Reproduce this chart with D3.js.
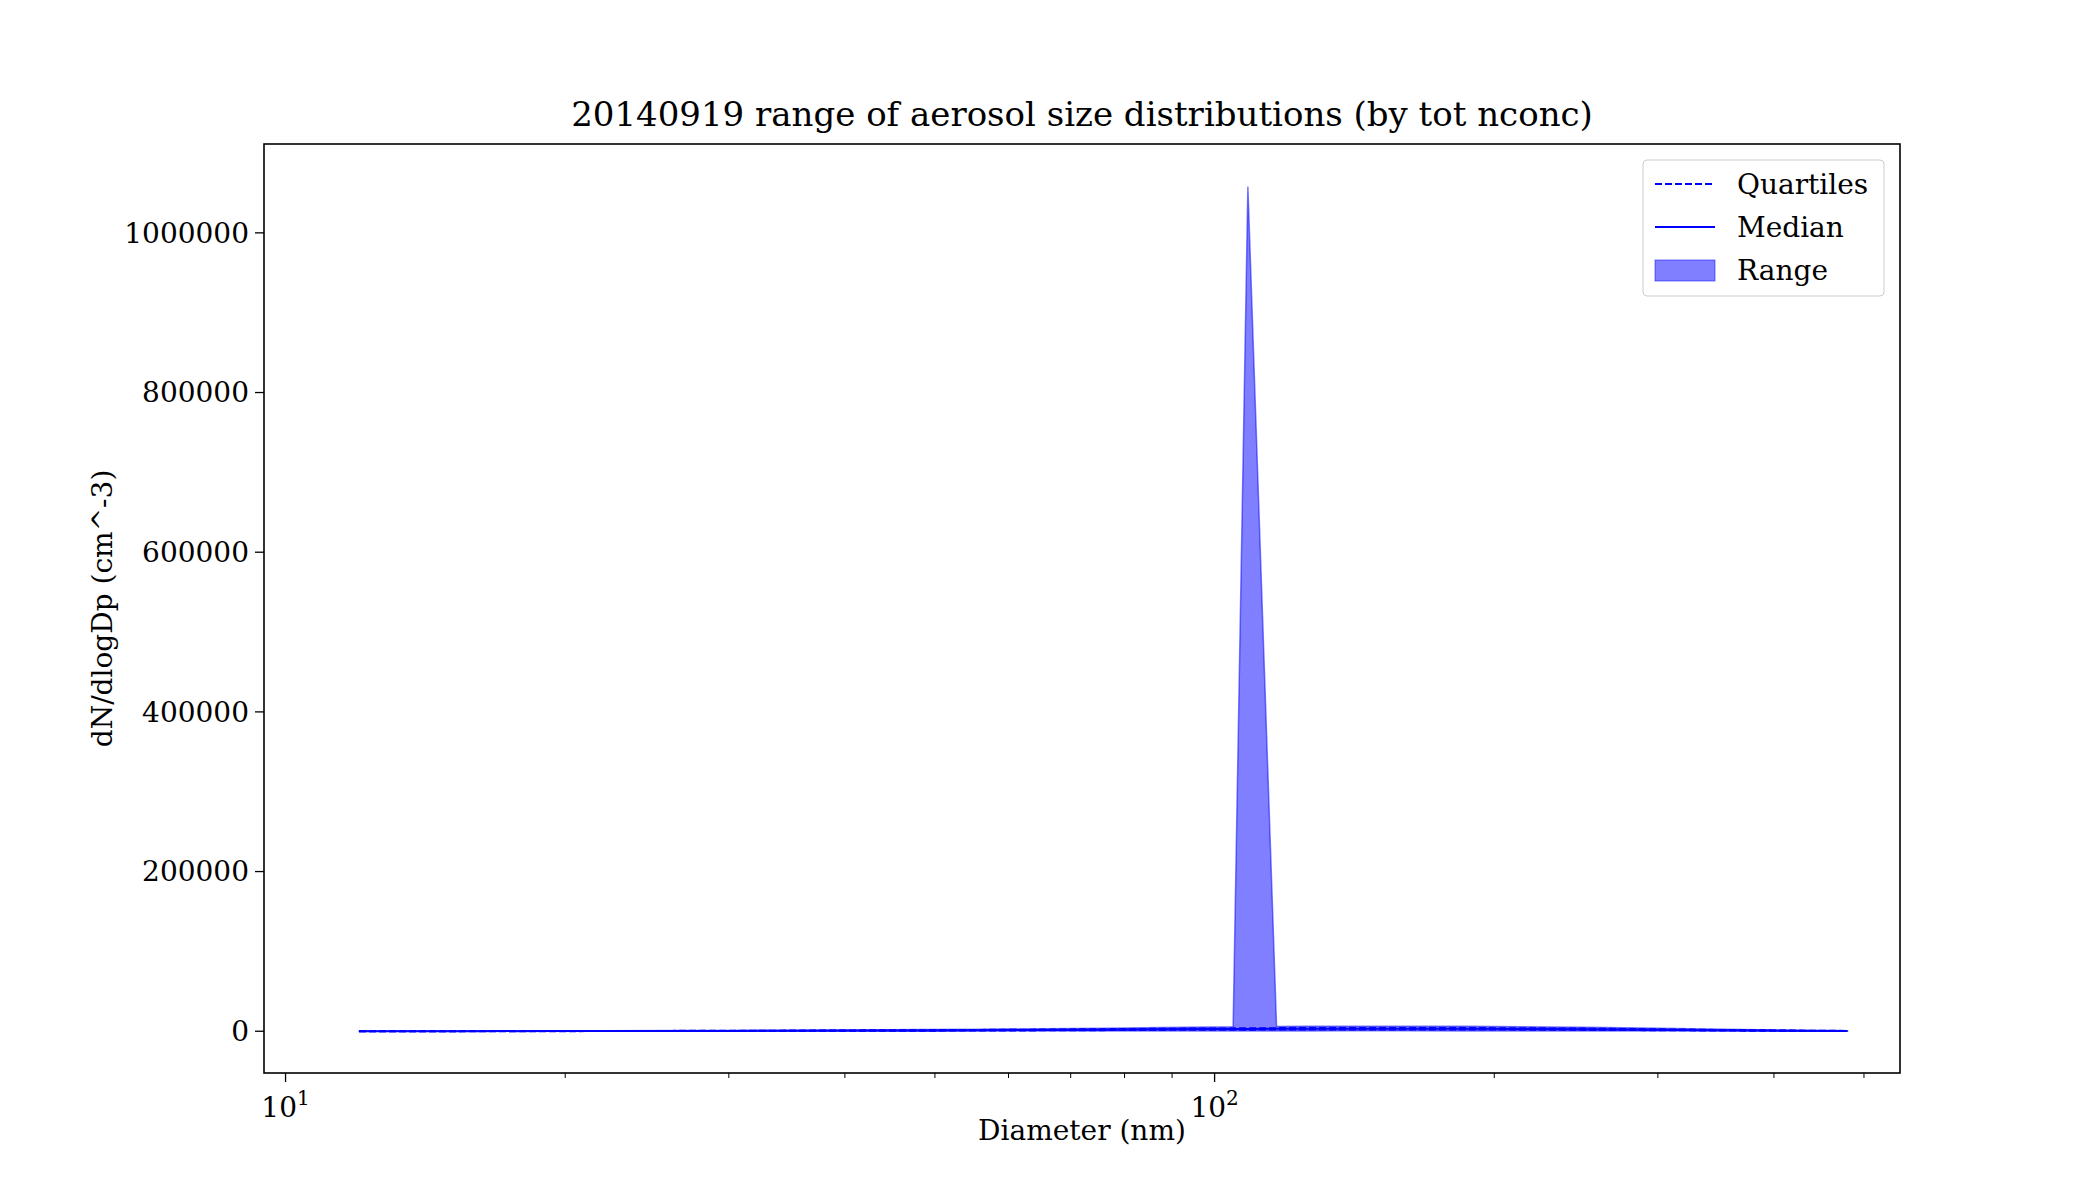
<!DOCTYPE html>
<html><head><meta charset="utf-8">
<script src="https://cdn.jsdelivr.net/npm/d3@7"></script>
<style>body{margin:0;background:#fff}text{font-family:"DejaVu Serif",serif}</style>
</head><body>
<svg id="chart" width="2100" height="1200"></svg>
<script>
// diameters (nm) and distribution stats
const diameters = [12,14,16,19,22,26,30,35,41,48,56,65,76,88,98,104.7,108.6,116.6,125,140,160,185,215,250,290,340,400,480];
const medianVals = [50,80,120,180,250,350,450,600,800,1000,1300,1600,2000,2400,2700,2800,2900,3000,3100,3200,3200,3100,2900,2500,2000,1400,800,300];
const q1Vals = [30,50,80,120,170,240,310,420,560,700,900,1100,1400,1700,1900,2000,2000,2100,2200,2200,2200,2200,2000,1700,1400,1000,550,200];
const q3Vals = [70,110,160,240,330,460,600,800,1050,1300,1700,2100,2600,3100,3500,3600,3800,3900,4000,4100,4100,4000,3800,3300,2600,1800,1050,400];
const minVals = [0,0,10,20,30,50,70,90,120,150,200,250,300,350,400,400,420,450,450,480,480,450,420,380,300,200,120,40];
const maxVals = [150,220,320,450,600,800,1000,1300,1700,2100,2600,3200,3900,4600,5200,5500,1058000,6000,6200,6300,6300,6100,5700,5000,4000,2800,1600,600];
const yTicks = [0,200000,400000,600000,800000,1000000];

const svg = d3.select("#chart");
const m = {left:264, right:1900, top:144, bottom:1073};
const x = d3.scaleLog().domain([9.48, 546.7]).range([m.left, m.right]);
const y = d3.scaleLinear().domain([-52300, 1111300]).range([m.bottom, m.top]);

const rows = diameters.map((d,i) => ({d, med:medianVals[i], q1:q1Vals[i], q3:q3Vals[i], lo:minVals[i], hi:maxVals[i]}));

svg.append("path").datum(rows)
  .attr("d", d3.area().x(r => x(r.d)).y0(r => y(r.lo)).y1(r => y(r.hi)))
  .attr("fill", "rgba(0,0,255,0.5)").attr("stroke", "rgba(0,0,255,0.5)").attr("stroke-width", 1.5);

const line = key => d3.line().x(r => x(r.d)).y(r => y(r[key]));
["q1","q3"].forEach(k => svg.append("path").datum(rows).attr("d", line(k))
  .attr("fill","none").attr("stroke","blue").attr("stroke-width",2).attr("stroke-dasharray","7,3"));
svg.append("path").datum(rows).attr("d", line("med"))
  .attr("fill","none").attr("stroke","blue").attr("stroke-width",2);

// frame
svg.append("rect").attr("x", m.left).attr("y", m.top)
  .attr("width", m.right - m.left).attr("height", m.bottom - m.top)
  .attr("fill","none").attr("stroke","#000").attr("stroke-width",1.6);

// x axis
const minor = [];
[10,100].forEach(b => { for (let k=1;k<10;k++) { const v=b*k; if (v>9.48 && v<546.7) minor.push(v); } });
minor.forEach(v => {
  const major = v===10 || v===100;
  svg.append("line").attr("x1",x(v)).attr("x2",x(v)).attr("y1",m.bottom).attr("y2",m.bottom+(major?9:5))
    .attr("stroke","#000").attr("stroke-width", major?1.3:1);
});
[[10,"1"],[100,"2"]].forEach(([v,e]) => {
  const t = svg.append("text").attr("x",x(v)).attr("y",m.bottom+44).attr("text-anchor","middle").attr("font-size",28);
  t.append("tspan").text("10");
  t.append("tspan").attr("dy",-12).attr("font-size",20).text(e);
});
svg.append("text").attr("x",(m.left+m.right)/2).attr("y",m.bottom+67).attr("text-anchor","middle")
  .attr("font-size",28).text("Diameter (nm)");

// y axis
yTicks.forEach(v => {
  svg.append("line").attr("x1",m.left-9).attr("x2",m.left).attr("y1",y(v)).attr("y2",y(v)).attr("stroke","#000").attr("stroke-width",1.3);
  svg.append("text").attr("x",m.left-15).attr("y",y(v)).attr("dy","0.35em").attr("text-anchor","end")
    .attr("font-size",28).text(v);
});
svg.append("text").attr("transform",`translate(112,${(m.top+m.bottom)/2}) rotate(-90)`)
  .attr("text-anchor","middle").attr("font-size",28).text("dN/dlogDp (cm^-3)");

svg.append("text").attr("x",(m.left+m.right)/2).attr("y",m.top-18).attr("text-anchor","middle")
  .attr("font-size",34).text("20140919 range of aerosol size distributions (by tot nconc)");

// legend
const lg = svg.append("g").attr("transform","translate(1643,160)");
lg.append("rect").attr("width",241).attr("height",136).attr("rx",4).attr("fill","#fff").attr("stroke","#ccc");
lg.append("line").attr("x1",12).attr("x2",72).attr("y1",24).attr("y2",24).attr("stroke","blue").attr("stroke-width",2).attr("stroke-dasharray","7,3");
lg.append("line").attr("x1",12).attr("x2",72).attr("y1",67).attr("y2",67).attr("stroke","blue").attr("stroke-width",2);
lg.append("rect").attr("x",12).attr("y",100).attr("width",60).attr("height",21).attr("fill","rgba(0,0,255,0.5)").attr("stroke","rgba(0,0,255,0.5)");
[["Quartiles",24],["Median",67],["Range",110]].forEach(([s,yy]) =>
  lg.append("text").attr("x",94).attr("y",yy).attr("dy","0.35em").attr("font-size",28).text(s));
</script>
</body></html>
